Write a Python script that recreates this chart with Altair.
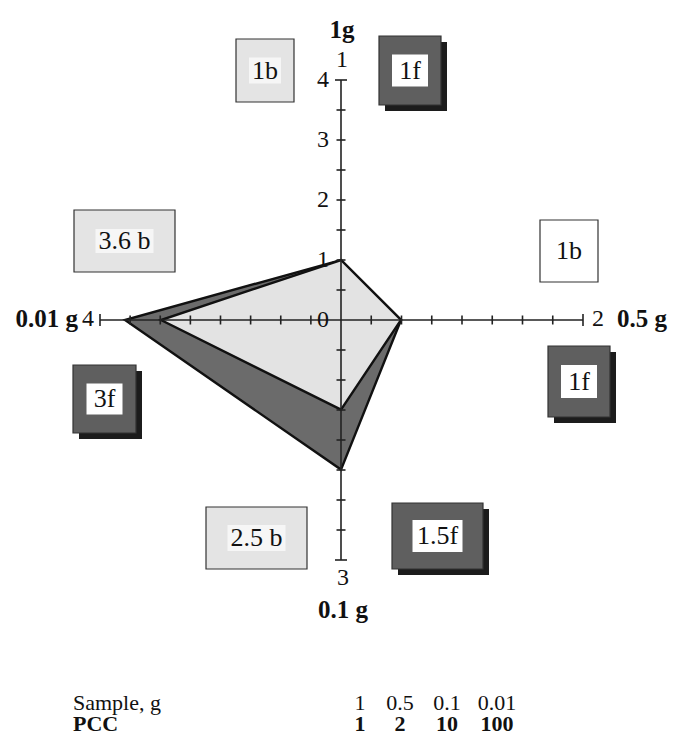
import altair as alt
import pandas as pd

# ---------------- data ----------------
# radar axes: up, right, down, left
axis_titles = ["1g", "0.5 g", "0.1 g", "0.01 g"]
axis_max = [4, 2, 3, 4]
axis_dx = [0, 1, 0, -1]
axis_dy = [1, 0, -1, 0]
n_ticks = 8

# polygon values read along each axis (up, right, down, left)
dark_values = [1.0, 0.5, 1.87, 3.6]
light_values = [1.0, 0.5, 1.12, 3.0]

# tick labels shown on the upward axis
up_tick_values = [0, 1, 2, 3, 4]

# boxed annotations
box_text = ["1b", "1f", "3.6 b", "3f", "1b", "1f", "2.5 b", "1.5f"]
box_style = ["light", "dark", "light", "dark", "white", "dark", "light", "dark"]

# table under the chart
table_rows = ["Sample, g", "PCC"]
sample_g = ["1", "0.5", "0.1", "0.01"]
pcc = ["1", "2", "10", "100"]

# ---------------- layout (pixels relative to the axis origin) ----------------
L = 240.0
XD = [-333, 328]
YD = [-417, 312]
box_cx = [-76, 69, -216.5, -236.5, 228, 238, -84.5, 96.5]
box_cy = [249.5, 249.5, 79, -79, 69, -61.5, -218, -216]
box_w = [58, 62, 101, 63, 58, 62, 101, 91]
box_h = [63, 69, 62, 68, 62, 71, 62, 66]
inner_w = [32, 36, 58, 36, 0, 36, 58, 50]
inner_h = [26, 32, 24, 31, 0, 33, 26, 32]
col_x = [19, 59, 106, 156]
row_y = [-390, -411]
TABLE_FS = 22

FONT = "Liberation Serif"

def X(f):
    return alt.X(f, type="quantitative", scale=alt.Scale(domain=XD, nice=False, zero=False), axis=None)

def Y(f):
    return alt.Y(f, type="quantitative", scale=alt.Scale(domain=YD, nice=False, zero=False), axis=None)

def X2(f):
    return alt.X2(f)

def Y2(f):
    return alt.Y2(f)

# polygons
def poly_df(vals):
    rows = []
    for k, (v, m, dx, dy) in enumerate(zip(vals, axis_max, axis_dx, axis_dy)):
        r = v / m * L
        rows.append({"k": k, "x": dx * r, "y": dy * r})
    return pd.DataFrame(rows)

def poly_layer(vals, fill):
    return alt.Chart(poly_df(vals)).mark_line(
        interpolate="linear-closed", fill=fill, stroke="#111111", strokeWidth=2.4,
        strokeJoin="miter"
    ).encode(x=X("x"), y=Y("y"), order=alt.Order("k:Q"))

# axis lines
axis_len = [240, 242, 240, 241]
axis_rows = [{"x": 0, "y": 0, "x2": dx * l, "y2": dy * l}
             for dx, dy, l in zip(axis_dx, axis_dy, axis_len)]
axes = alt.Chart(pd.DataFrame(axis_rows)).mark_rule(color="#222222", strokeWidth=1.6).encode(
    x=X("x"), y=Y("y"), x2=X2("x2"), y2=Y2("y2"))

# tick marks
tick_rows = []
for dx, dy, l in zip(axis_dx, axis_dy, axis_len):
    for i in range(1, n_ticks + 1):
        p = l * i / n_ticks
        h = 6 if i == n_ticks else 4.5
        if dx != 0:
            tick_rows.append({"x": dx * p, "x2": dx * p, "y": -h, "y2": h})
        else:
            tick_rows.append({"x": -h, "x2": h, "y": dy * p, "y2": dy * p})
ticks = alt.Chart(pd.DataFrame(tick_rows)).mark_rule(color="#222222", strokeWidth=1.6).encode(
    x=X("x"), y=Y("y"), x2=X2("x2"), y2=Y2("y2"))

# tick labels on the upward axis
lab_rows = [{"x": -12, "y": v / axis_max[0] * L, "t": str(v)} for v in up_tick_values]
up_labels = alt.Chart(pd.DataFrame(lab_rows)).mark_text(
    align="right", baseline="middle", font=FONT, fontSize=24, color="#111111"
).encode(x=X("x"), y=Y("y"), text="t:N")
end_rows = [
    {"x": -253, "y": 1, "t": str(axis_max[3])},
    {"x": 257, "y": 1, "t": str(axis_max[1])},
    {"x": 2, "y": -258, "t": str(axis_max[2])},
    {"x": 1, "y": 260, "t": "1"},
]
end_labels = alt.Chart(pd.DataFrame(end_rows)).mark_text(
    align="center", baseline="middle", font=FONT, fontSize=24, color="#111111"
).encode(x=X("x"), y=Y("y"), text="t:N")

# axis titles (bold)
title_rows = [
    {"x": 1, "y": 290, "t": axis_titles[0], "a": "center"},
    {"x": 276, "y": 1, "t": axis_titles[1], "a": "left"},
    {"x": 2, "y": -290, "t": axis_titles[2], "a": "center"},
    {"x": -263, "y": 1, "t": axis_titles[3], "a": "right"},
]
tdf = pd.DataFrame(title_rows)
titles = []
for a in ["center", "left", "right"]:
    sub = tdf[tdf["a"] == a]
    titles.append(alt.Chart(sub).mark_text(
        align=a, baseline="middle", font=FONT, fontSize=25, fontWeight="bold", color="#111111"
    ).encode(x=X("x"), y=Y("y"), text="t:N"))

# boxes
fills = {"light": "#e4e4e4", "dark": "#5f5f5f", "white": "#ffffff"}
inner_fill = {"light": "#f6f6f6", "dark": "#ffffff", "white": "#ffffff"}
brows, srows, irows, trows = [], [], [], []
for t, s, cx, cy, w, h, iw, ih in zip(box_text, box_style, box_cx, box_cy, box_w, box_h, inner_w, inner_h):
    brows.append({"x": cx - w / 2, "x2": cx + w / 2, "y": cy - h / 2, "y2": cy + h / 2, "f": fills[s]})
    if s == "dark":
        srows.append({"x": cx - w / 2 + 6, "x2": cx + w / 2 + 6, "y": cy - h / 2 - 6, "y2": cy + h / 2 - 6})
    if iw > 0:
        irows.append({"x": cx - iw / 2, "x2": cx + iw / 2, "y": cy - ih / 2, "y2": cy + ih / 2, "f": inner_fill[s]})
    trows.append({"x": cx, "y": cy, "t": t})

shadows = alt.Chart(pd.DataFrame(srows)).mark_rect(color="#1c1c1c").encode(
    x=X("x"), x2=X2("x2"), y=Y("y"), y2=Y2("y2"))
boxes = alt.Chart(pd.DataFrame(brows)).mark_rect(stroke="#333333", strokeWidth=1.2).encode(
    x=X("x"), x2=X2("x2"), y=Y("y"), y2=Y2("y2"), fill=alt.Fill("f:N", scale=None))
inners = alt.Chart(pd.DataFrame(irows)).mark_rect().encode(
    x=X("x"), x2=X2("x2"), y=Y("y"), y2=Y2("y2"), fill=alt.Fill("f:N", scale=None))
box_labels = alt.Chart(pd.DataFrame(trows)).mark_text(
    align="center", baseline="middle", font=FONT, fontSize=26, color="#111111"
).encode(x=X("x"), y=Y("y"), text="t:N")

# table
row_head = alt.Chart(pd.DataFrame([
    {"x": -268, "y": row_y[0], "t": table_rows[0]},
])).mark_text(align="left", baseline="alphabetic", font=FONT, fontSize=TABLE_FS, color="#111111").encode(
    x=X("x"), y=Y("y"), text="t:N")
row_head2 = alt.Chart(pd.DataFrame([
    {"x": -268, "y": row_y[1], "t": table_rows[1]},
])).mark_text(align="left", baseline="alphabetic", font=FONT, fontSize=TABLE_FS, fontWeight="bold",
              color="#111111").encode(x=X("x"), y=Y("y"), text="t:N")
r1 = alt.Chart(pd.DataFrame({"x": col_x, "y": [row_y[0]] * 4, "t": sample_g})).mark_text(
    align="center", baseline="alphabetic", font=FONT, fontSize=TABLE_FS, color="#111111"
).encode(x=X("x"), y=Y("y"), text="t:N")
r2 = alt.Chart(pd.DataFrame({"x": col_x, "y": [row_y[1]] * 4, "t": pcc})).mark_text(
    align="center", baseline="alphabetic", font=FONT, fontSize=TABLE_FS, fontWeight="bold", color="#111111"
).encode(x=X("x"), y=Y("y"), text="t:N")

chart = alt.layer(
    shadows, boxes, inners, box_labels,
    poly_layer(dark_values, "#6b6b6b"),
    poly_layer(light_values, "#e3e3e3"),
    axes, ticks, up_labels, end_labels, *titles,
    row_head, row_head2, r1, r2,
).properties(
    width=661, height=729, autosize="none", padding=0, background="white"
).configure_view(stroke=None)

chart.save("out.html", embed_options={"renderer": "svg", "actions": False})
